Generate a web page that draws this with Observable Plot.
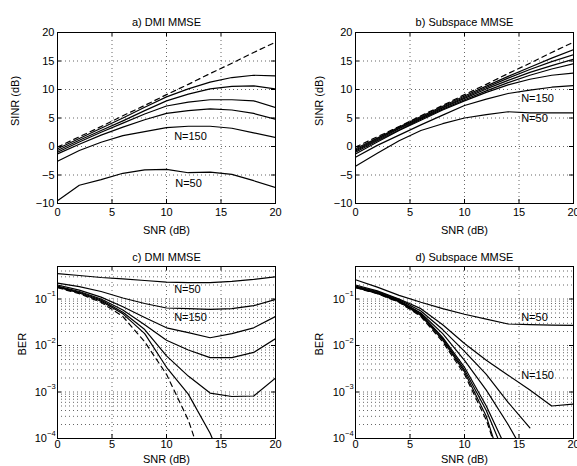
<!DOCTYPE html>
<html><head><meta charset="utf-8">
<script src="https://cdn.jsdelivr.net/npm/d3@7"></script>
<script src="https://cdn.jsdelivr.net/npm/@observablehq/plot@0.6"></script>
<style>
body{margin:0;background:#fff;overflow:hidden}
#wrap{position:relative;width:577px;height:466px;overflow:hidden;background:#fff}
#wrap svg{position:absolute;max-width:none}
</style></head><body><div id="wrap"></div>
<script>
// ---- shared axes ----
const snr = [0, 2, 4, 6, 8, 10, 12, 14, 16, 18, 20];
const snrTicks = [0, 5, 10, 15, 20];
const sinrTicks = [-10, -5, 0, 5, 10, 15, 20];
const berTicks = [1e-4, 1e-3, 1e-2, 1e-1];
const berExp = ["−4", "−3", "−2", "−1"];
const berMinor = [2, 3, 4, 5, 6, 7, 8, 9];

// ---- a) DMI MMSE, SINR (dB) ----
const aOpt  = [-0.1, 1.7, 3.5, 5.4, 7.2, 9.1, 10.9, 12.8, 14.6, 16.5, 18.3];
const aN50  = [-9.5, -6.8, -5.8, -4.7, -4.1, -4.0, -4.6, -4.5, -4.9, -6.0, -7.2];
const aN150 = [-2.6, -0.7, 0.75, 1.9, 2.6, 3.3, 3.55, 3.55, 3.2, 2.4, 1.6];
const aN3   = [-1.3, 0.4, 2.0, 3.4, 4.7, 5.8, 6.3, 6.6, 6.4, 5.8, 4.8];
const aN4   = [-1.0, 0.8, 2.5, 4.1, 5.7, 7.1, 7.8, 8.2, 8.2, 8.0, 6.85];
const aN5   = [-0.7, 1.1, 2.8, 4.5, 6.3, 8.0, 9.2, 10.1, 10.55, 10.65, 10.1];
const aN6   = [-0.4, 1.4, 3.2, 5.0, 6.9, 8.7, 10.1, 11.3, 12.1, 12.5, 12.4];
const aLabels = [{x: 10.7, y: 1.75, t: "N=150"}, {x: 10.8, y: -6.4, t: "N=50"}];

// ---- b) Subspace MMSE, SINR (dB) ----
const bOpt  = [-0.1, 1.7, 3.5, 5.4, 7.2, 9.1, 10.9, 12.8, 14.6, 16.5, 18.3];
const bN50  = [-3.45, -1.2, 1.0, 2.8, 4.0, 5.0, 5.6, 6.1, 5.9, 5.9, 5.9];
const bN150 = [-1.9, 0.2, 2.0, 3.8, 5.5, 7.2, 8.3, 9.3, 9.9, 10.4, 10.7];
const bN3   = [-1.3, 0.8, 2.8, 4.6, 6.4, 8.0, 9.5, 10.8, 11.8, 12.5, 12.9];
const bN4   = [-1.0, 1.0, 2.9, 4.8, 6.55, 8.2, 9.75, 11.2, 12.5, 13.6, 14.5];
const bN5   = [-0.8, 1.2, 3.1, 4.95, 6.75, 8.45, 10.1, 11.6, 13.0, 14.2, 15.3];
const bN6   = [-0.6, 1.35, 3.25, 5.1, 6.9, 8.65, 10.35, 12.0, 13.5, 14.9, 16.1];
const bN7   = [-0.4, 1.5, 3.4, 5.25, 7.05, 8.85, 10.6, 12.3, 13.9, 15.5, 17.0];
const bLabels = [{x: 15.2, y: 8.4, t: "N=150"}, {x: 15.2, y: 4.9, t: "N=50"}];

// ---- c) DMI MMSE, BER ----
const cOpt  = [0.175, 0.13, 0.085, 0.042, 0.012, 0.0024, 0.00025, 0.00001];
const cN50  = [0.35, 0.32, 0.29, 0.27, 0.25, 0.23, 0.225, 0.225, 0.24, 0.265, 0.30];
const cN150 = [0.22, 0.185, 0.145, 0.105, 0.08, 0.064, 0.062, 0.06, 0.062, 0.072, 0.098];
const cN3   = [0.2, 0.155, 0.11, 0.068, 0.04, 0.024, 0.019, 0.0147, 0.018, 0.024, 0.042];
const cN4   = [0.19, 0.145, 0.1, 0.058, 0.028, 0.013, 0.008, 0.0055, 0.0055, 0.0071, 0.014];
const cN5   = [0.185, 0.14, 0.095, 0.052, 0.022, 0.006, 0.0022, 0.00095, 0.0008, 0.00082, 0.002];
const cN6   = [0.18, 0.135, 0.09, 0.048, 0.018, 0.0034, 0.0009, 0.00013, 0.00001];
const cLabels = [{x: 10.7, y: 0.16, t: "N=50"}, {x: 10.7, y: 0.04, t: "N=150"}];

// ---- d) Subspace MMSE, BER ----
const dOpt  = [0.175, 0.13, 0.085, 0.042, 0.012, 0.0024, 0.00025, 0.00001];
const dN50  = [0.26, 0.18, 0.12, 0.085, 0.062, 0.047, 0.037, 0.029, 0.028, 0.0275, 0.027];
const dN150 = [0.2, 0.15, 0.1, 0.062, 0.028, 0.011, 0.0048, 0.0023, 0.0011, 0.0005, 0.00055];
const dN3   = [0.19, 0.145, 0.097, 0.055, 0.022, 0.0075, 0.0024, 0.0006, 0.00017];
const dN4   = [0.185, 0.14, 0.093, 0.05, 0.018, 0.0048, 0.0011, 0.0002, 0.00003];
const dN5   = [0.182, 0.136, 0.091, 0.048, 0.015, 0.0034, 0.0005, 0.00005];
const dN6   = [0.18, 0.134, 0.089, 0.046, 0.014, 0.003, 0.0004, 0.00003];
const dN7   = [0.177, 0.132, 0.087, 0.044, 0.013, 0.0027, 0.0003, 0.00001];
const dLabels = [{x: 15.2, y: 0.041, t: "N=50"}, {x: 15.2, y: 0.0023, t: "N=150"}];

const berGrid = [];
berTicks.forEach(t => berMinor.forEach(m => { const v = m * t; if (v <= 0.5) berGrid.push(v); }));
const berGridAll = berTicks.slice(1).concat(berGrid);

const FONT = '"Liberation Sans", Arial, Helvetica, sans-serif';

function makePanel(cfg) {
  const {left, top, width, height, ml, mr, mt, mb, log, series, dashed, labels,
         title, ylabel, ylabDx, ylabDy, titleDy, xlabDy, xPad} = cfg;
  const W = width - ml - mr, H = height - mt - mb;
  const solid = [];
  series.forEach((s, i) => s.forEach((v, j) => solid.push({k: i, x: snr[j], y: v})));
  const dash = dashed.map((v, j) => ({x: snr[j], y: v}));
  const yTicks = log ? berTicks : sinrTicks;
  const yGrid = log ? berGridAll : sinrTicks.slice(1, -1);
  const dots = {stroke: "#000", strokeOpacity: 0.6, strokeDasharray: "1,3", strokeWidth: 1};
  const marks = [
    Plot.gridX(snrTicks.slice(1, -1), dots),
    Plot.gridY(yGrid, dots),
    Plot.line(solid, {x: "x", y: "y", z: "k", stroke: "#000", strokeWidth: 1.2, clip: true}),
    Plot.line(dash, {x: "x", y: "y", stroke: "#000", strokeWidth: 1.2, strokeDasharray: "5,4", clip: true}),
    Plot.tickX(snrTicks, {x: d => d, insetTop: H - 4, stroke: "#000"}),
    Plot.tickX(snrTicks, {x: d => d, insetBottom: H - 4, stroke: "#000"}),
    Plot.tickY(yTicks, {y: d => d, insetRight: W - 4, stroke: "#000"}),
    Plot.tickY(yTicks, {y: d => d, insetLeft: W - 4, stroke: "#000"}),
    Plot.frame({stroke: "#000", strokeWidth: 1}),
    Plot.axisX(snrTicks, {tickSize: 0, tickPadding: xPad, label: null, fontSize: 11}),
    Plot.text(labels, {x: "x", y: "y", text: "t", textAnchor: "start", fontSize: 11}),
    Plot.text([title], {text: d => d, frameAnchor: "top", dy: titleDy, fontSize: 11}),
    Plot.text(["SNR (dB)"], {text: d => d, frameAnchor: "bottom", dy: xlabDy, fontSize: 11}),
    Plot.text([ylabel], {text: d => d, frameAnchor: "left", dx: ylabDx, dy: ylabDy, rotate: -90, fontSize: 11})
  ];
  if (log) {
    marks.push(Plot.axisY(berTicks, {tickSize: 0, tickPadding: 10.5, tickFormat: () => "10", label: null, fontSize: 11}));
    marks.push(Plot.text(berTicks, {y: d => d, text: (d, i) => berExp[i], frameAnchor: "left", dx: -10.5, dy: -5, textAnchor: "start", fontSize: 7.5}));
  } else {
    marks.push(Plot.axisY(sinrTicks, {tickSize: 0, tickPadding: 3, label: null, fontSize: 11}));
  }
  const svg = Plot.plot({
    width, height, marginLeft: ml, marginRight: mr, marginTop: mt, marginBottom: mb,
    x: {domain: [0, 20]},
    y: log ? {type: "log", domain: [1e-4, 0.5]} : {domain: [-10, 20]},
    style: {fontFamily: FONT, fontSize: "11px", color: "#000", background: "transparent", overflow: "visible"},
    marks
  });
  svg.style.left = left + "px";
  svg.style.top = top + "px";
  document.getElementById("wrap").appendChild(svg);
}

makePanel({left: 0, top: 0, width: 288, height: 245, ml: 57, mr: 13, mt: 32, mb: 42, log: false,
  series: [aN50, aN150, aN3, aN4, aN5, aN6], dashed: aOpt, labels: aLabels,
  title: "a) DMI MMSE", ylabel: "SINR (dB)", ylabDx: -42, ylabDy: 8, titleDy: -14, xlabDy: 30, xPad: 5});
makePanel({left: 288, top: 0, width: 289, height: 245, ml: 67, mr: 4, mt: 32, mb: 42, log: false,
  series: [bN50, bN150, bN3, bN4, bN5, bN6, bN7], dashed: bOpt, labels: bLabels,
  title: "b) Subspace MMSE", ylabel: "SINR (dB)", ylabDx: -36, ylabDy: 8, titleDy: -14, xlabDy: 30, xPad: 5});
makePanel({left: 0, top: 245, width: 288, height: 221, ml: 57, mr: 13, mt: 21, mb: 28, log: true,
  series: [cN50, cN150, cN3, cN4, cN5, cN6], dashed: cOpt, labels: cLabels,
  title: "c) DMI MMSE", ylabel: "BER", ylabDx: -35, ylabDy: 3, titleDy: -13, xlabDy: 24, xPad: 2});
makePanel({left: 288, top: 245, width: 289, height: 221, ml: 67, mr: 4, mt: 21, mb: 28, log: true,
  series: [dN50, dN150, dN3, dN4, dN5, dN6, dN7], dashed: dOpt, labels: dLabels,
  title: "d) Subspace MMSE", ylabel: "BER", ylabDx: -36, ylabDy: 3, titleDy: -13, xlabDy: 24, xPad: 2});
</script></body></html>
